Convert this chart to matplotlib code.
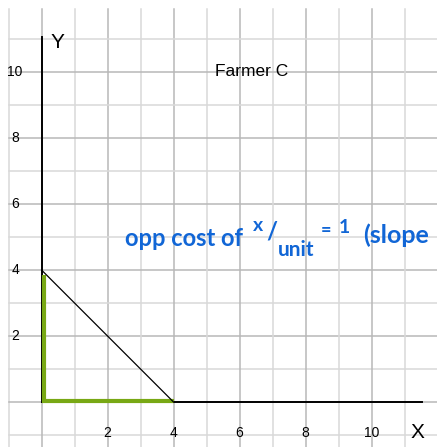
import matplotlib
matplotlib.use("Agg")
import matplotlib.pyplot as plt

# Production possibility frontier for Farmer C
ppf_x = [0, 4]
ppf_y = [4, 0]

# highlighted intercept segments along the axes
green_vert_x = [0.06, 0.06]
green_vert_y = [0.0, 3.85]
green_horz_x = [0.0, 4.0]
green_horz_y = [0.02, 0.02]

x_ticks = [2, 4, 6, 8, 10]
y_ticks = [2, 4, 6, 8, 10]
grid_vals = list(range(-1, 12))

title = "Farmer C"
note_parts = [
    ("opp cost of", 2.53, 4.95, 17),
    ("x", 6.4, 5.35, 14),
    ("/", 6.8, 5.15, 17),
    ("unit", 7.15, 4.6, 15),
    ("=", 8.45, 5.2, 13),
    ("1", 9.0, 5.3, 14),
    ("(slope", 9.75, 5.05, 18),
]

fig = plt.figure(figsize=(4.37, 4.47), dpi=100)
ax = fig.add_axes([0, 0, 1, 1])
ax.set_xlim(-1.26, 11.98)
ax.set_ylim(-1.36, 12.18)
ax.axis("off")

# grid: even lines slightly darker than odd lines
for v in grid_vals:
    c = "#b8b8b8" if v % 2 == 0 else "#d9d9d9"
    ax.plot([v, v], [-1.36, 11.9], color=c, lw=1.1, zorder=0)
    ax.plot([-1, 11.98], [v, v], color=c, lw=1.1, zorder=0)

# axes lines
ax.plot([0, 0], [0, 11.06], color="black", lw=1.4, zorder=2)
ax.plot([0, 11.53], [0, 0], color="black", lw=1.4, zorder=2)

ax.plot(green_vert_x, green_vert_y, color="#78a814", lw=3.0,
        solid_capstyle="butt", zorder=3)
ax.plot(green_horz_x, green_horz_y, color="#78a814", lw=3.0,
        solid_capstyle="butt", zorder=3)
ax.plot(ppf_x, ppf_y, color="black", lw=0.9, zorder=4)

font = "Liberation Sans"
for t in x_ticks:
    ax.text(t, -0.95, str(t), ha="center", va="center", fontsize=10,
            family=font)
for t in y_ticks:
    ax.text(-0.8, t, str(t), ha="center", va="center", fontsize=10,
            family=font)

ax.text(11.4, -0.92, "X", ha="center", va="center", fontsize=15, family=font)
ax.text(0.47, 10.9, "Y", ha="center", va="center", fontsize=15, family=font)
ax.text(6.35, 10.0, title, ha="center", va="center", fontsize=12.5,
        family=font)

for s, x, y, fs in note_parts:
    ax.text(x, y, s, ha="left", va="center", fontsize=fs, color="#1166d6",
            family="Lato", fontweight="bold")

fig.savefig("out.png", dpi=100)
